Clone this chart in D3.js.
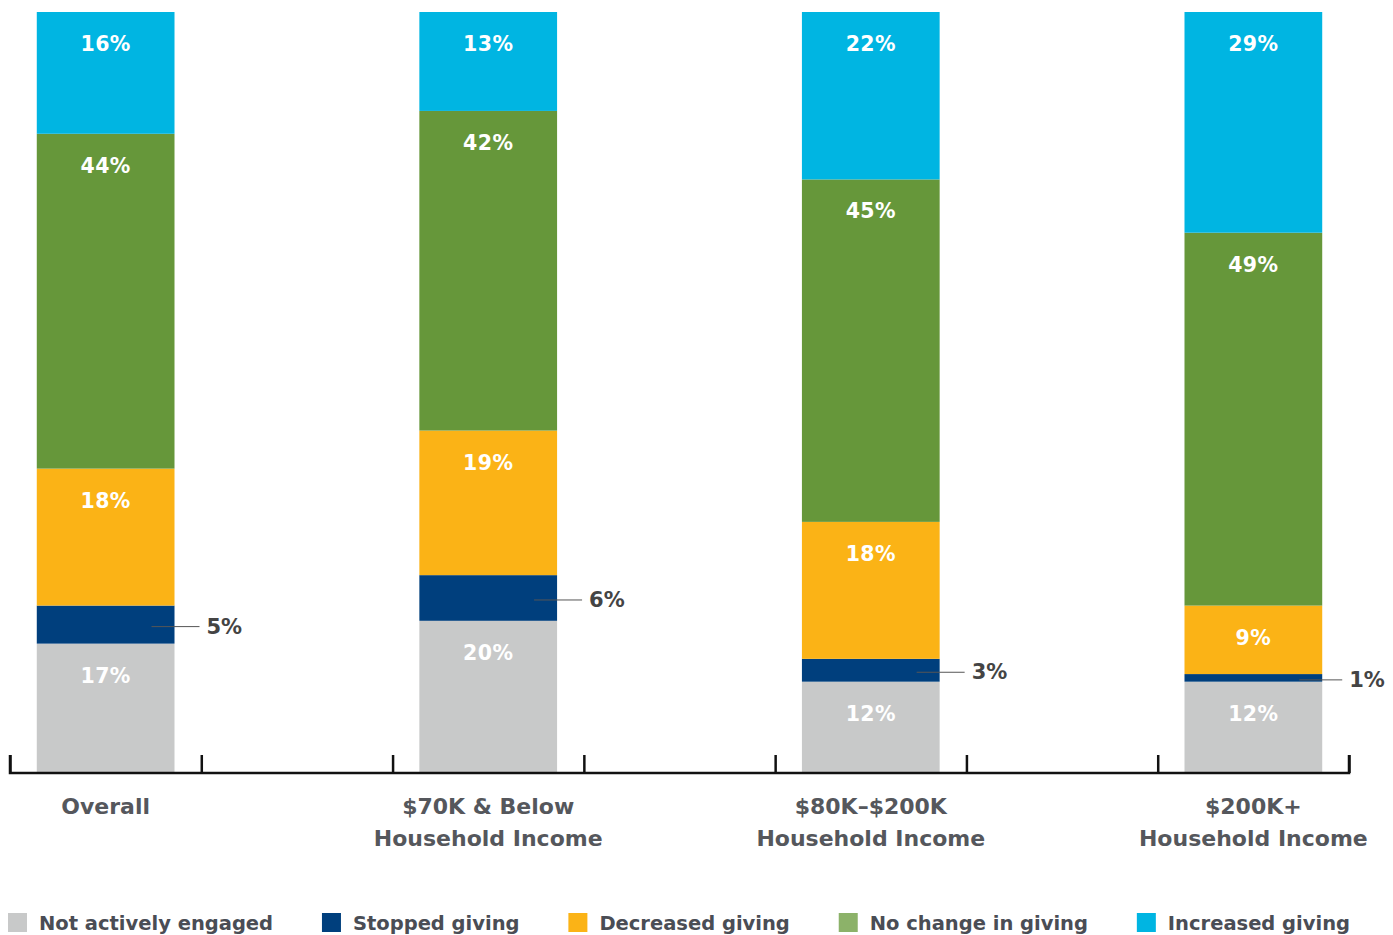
<!DOCTYPE html>
<html>
<head>
<meta charset="utf-8">
<script src="https://cdn.jsdelivr.net/npm/d3@7/dist/d3.min.js"></script>
<style>
  html, body { margin: 0; padding: 0; background: #fff; }
  svg { display: block; }
  text { font-family: "DejaVu Sans", sans-serif; font-weight: 700; }
</style>
</head>
<body>
<svg id="chart" width="1393" height="935"></svg>
<script>
// Survey groups (two-line labels)
const categories = [
  ["Overall"],
  ["$70K & Below", "Household Income"],
  ["$80K\u2013$200K", "Household Income"],
  ["$200K+", "Household Income"]
];
// Response series, stacked from the bottom up
const seriesNames = ["Not actively engaged", "Stopped giving", "Decreased giving", "No change in giving", "Increased giving"];
const seriesColors = ["#c8c9c9", "#003f7d", "#fbb316", "#66973a", "#00b5e2"];
const legendColors = ["#c8c9c9", "#003f7d", "#fbb316", "#8cb269", "#00b5e2"];
// Percent values per series, one entry per group
const notEngaged = [17, 20, 12, 12];
const stopped    = [5, 6, 3, 1];
const decreased  = [18, 19, 18, 9];
const noChange   = [44, 42, 45, 49];
const increased  = [16, 13, 22, 29];
const seriesValues = [notEngaged, stopped, decreased, noChange, increased];

const svg = d3.select("#chart");

// Axis runs across seven equal slots; groups sit in every other slot.
const x = d3.scaleLinear().domain([0, 7]).range([10, 1349]);
const y = d3.scaleLinear().domain([0, 100]).range([773, 12]);
const barW = x(0.72) - x(0);

const rows = categories.map((c, i) => {
  const r = { idx: i };
  seriesNames.forEach((s, k) => r[s] = seriesValues[k][i]);
  return r;
});
const stack = d3.stack().keys(seriesNames)(rows);
const color = d3.scaleOrdinal().domain(seriesNames).range(seriesColors);
const center = i => x(2 * i + 0.5);

const g = svg.append("g");
stack.forEach(layer => {
  g.append("g").selectAll("rect").data(layer).join("rect")
    .attr("x", d => center(d.data.idx) - barW / 2)
    .attr("width", barW)
    .attr("y", d => y(d[1]))
    .attr("height", d => y(d[0]) - y(d[1]))
    .attr("fill", color(layer.key));
});

// Value labels: inside large segments, call-outs for thin ones
stack.forEach(layer => {
  layer.forEach(d => {
    const v = d.data[layer.key];
    const cx = center(d.data.idx);
    if (v >= 7) {
      g.append("text")
        .attr("x", cx).attr("y", y(d[1]) + 32)
        .attr("text-anchor", "middle").attr("dominant-baseline", "central")
        .attr("fill", "#fff").attr("font-size", 20.5).attr("letter-spacing", 0.4)
        .text(v + "%");
    } else {
      const midY = (y(d[0]) + y(d[1])) / 2 + 2;
      const right = cx + barW / 2;
      const ext = d.data.idx === categories.length - 1 ? 20 : 25;
      g.append("line")
        .attr("x1", right - 23).attr("x2", right + ext)
        .attr("y1", midY).attr("y2", midY)
        .attr("stroke", "#555").attr("stroke-width", 1);
      g.append("text")
        .attr("x", right + ext + 7).attr("y", midY)
        .attr("dominant-baseline", "central")
        .attr("fill", "#444").attr("font-size", 21)
        .text(v + "%");
    }
  });
});

// Baseline with slot ticks
const axis = d3.axisBottom(x).ticks(7).tickSize(-18).tickFormat("");
const ax = svg.append("g").attr("transform", `translate(0,${y(0)})`).call(axis);
ax.select(".domain").attr("d", `M${x(0)},-18V0H${x(7)}V-18`).attr("stroke", "#111").attr("stroke-width", 2.5).attr("fill", "none");
ax.selectAll(".tick line").attr("stroke", "#111").attr("stroke-width", 2.5);

// Group labels
categories.forEach((lines, i) => {
  const t = svg.append("text")
    .attr("text-anchor", "middle")
    .attr("fill", "#55575c").attr("font-size", 22);
  lines.forEach((ln, j) => t.append("tspan")
    .attr("x", center(i)).attr("y", 806 + j * 32).attr("dominant-baseline", "central").text(ln));
});

// Legend, spread across the width
const leg = svg.append("g");
const items = seriesNames.map((name, k) => {
  const it = leg.append("g");
  it.append("rect").attr("width", 19).attr("height", 19).attr("y", 913).attr("fill", legendColors[k]);
  const tx = it.append("text").attr("x", 31).attr("y", 923).attr("dominant-baseline", "central")
    .attr("fill", "#4a4d55").attr("font-size", 19.5).text(name);
  return { it, w: 31 + tx.node().getComputedTextLength() };
});
const legLeft = 8, legRight = 1350;
const total = d3.sum(items, d => d.w);
const gap = (legRight - legLeft - total) / (items.length - 1);
let cur = legLeft;
items.forEach(d => { d.it.attr("transform", `translate(${cur},0)`); cur += d.w + gap; });
</script>
</body>
</html>
